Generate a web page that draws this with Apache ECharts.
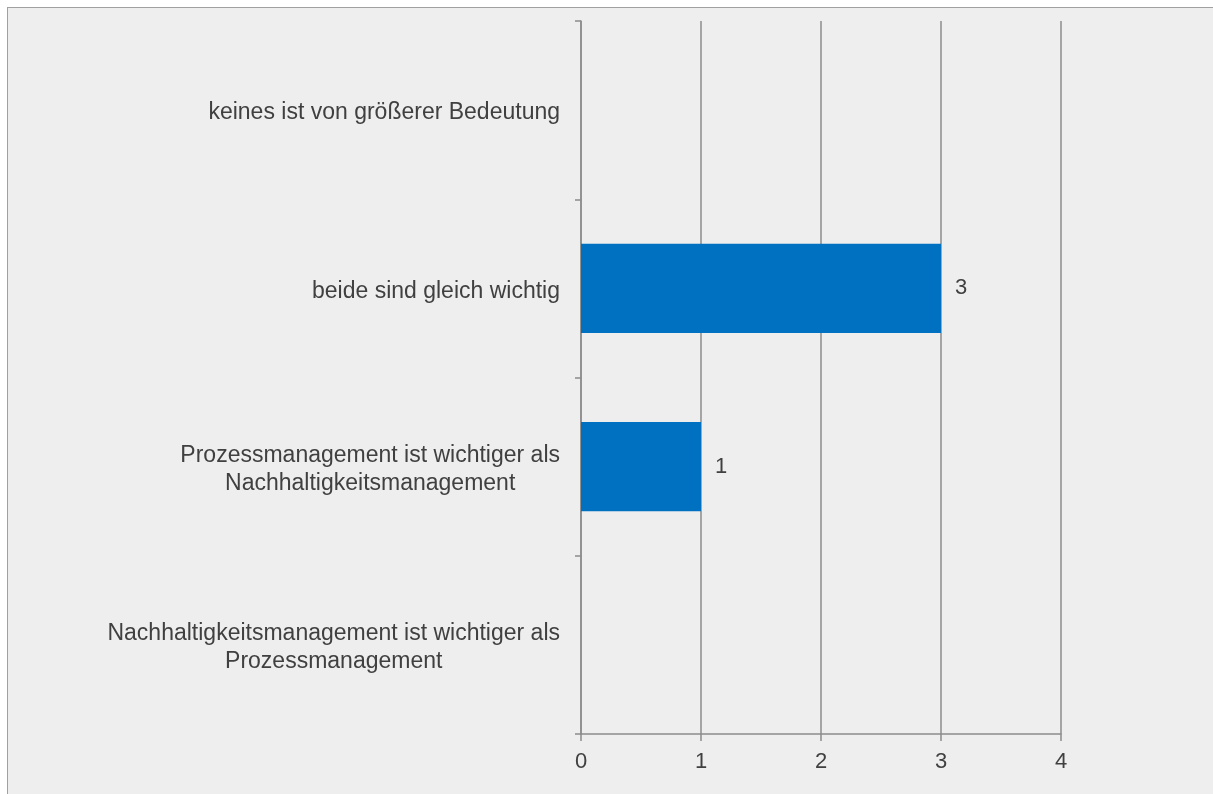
<!DOCTYPE html>
<html>
<head>
<meta charset="utf-8">
<script src="https://cdn.jsdelivr.net/npm/echarts@6/dist/echarts.min.js"></script>
<style>
  body { margin: 0; background: #ffffff; overflow: hidden; }
  #chart {
    position: absolute; left: 7px; top: 7px;
    width: 1205px; height: 786px;
    border-left: 1px solid #a0a0a0; border-top: 1px solid #a0a0a0;
  }
</style>
</head>
<body>
<div id="chart"></div>
<script>
// categories bottom to top
var categories = [
  'Nachhaltigkeitsmanagement ist wichtiger als\nProzessmanagement',
  'Prozessmanagement ist wichtiger als\nNachhaltigkeitsmanagement',
  'beide sind gleich wichtig',
  'keines ist von größerer Bedeutung'
];
var counts = [0, 1, 3, 0];
var xTicks = [0, 1, 2, 3, 4];

var chart = echarts.init(document.getElementById('chart'));
var gridColor = '#8c8c8c';
var fontFamily = '"Liberation Sans", Arial, sans-serif';

var option = {
  backgroundColor: '#eeeeee',
  animation: false,
  grid: { left: 573, right: 152, top: 13, bottom: 60 },
  xAxis: {
    type: 'value',
    min: xTicks[0],
    max: xTicks[xTicks.length - 1],
    interval: 1,
    axisLine: { show: true, lineStyle: { color: gridColor, width: 1.5 } },
    axisTick: { show: true, length: 7, lineStyle: { color: gridColor, width: 1.5 } },
    splitLine: { show: true, lineStyle: { color: gridColor, width: 1.5 } },
    axisLabel: { color: '#404040', fontSize: 22, fontFamily: fontFamily, margin: 17 }
  },
  yAxis: {
    type: 'category',
    data: categories,
    axisLine: { show: true, lineStyle: { color: gridColor, width: 1.5 } },
    axisTick: { show: true, length: 6, lineStyle: { color: gridColor, width: 1.5 } },
    axisLabel: {
      margin: 21,
      padding: [6, 0, 0, 0],
      fontFamily: fontFamily,
      formatter: function (v) {
        return v.split('\n').map(function (s) { return '{a|' + s + '}'; }).join('\n');
      },
      rich: {
        a: { align: 'center', color: '#404040', fontSize: 23, fontFamily: fontFamily, lineHeight: 28 }
      }
    }
  },
  series: [{
    type: 'bar',
    data: counts,
    barWidth: '50%',
    itemStyle: { color: '#0070c0' },
    label: {
      show: true,
      position: 'right',
      distance: 14,
      padding: [3, 0, 0, 0],
      color: '#404040',
      fontSize: 22,
      fontFamily: fontFamily,
      formatter: function (p) { return p.value ? p.value : ''; }
    }
  }]
};
chart.setOption(option);
</script>
</body>
</html>
